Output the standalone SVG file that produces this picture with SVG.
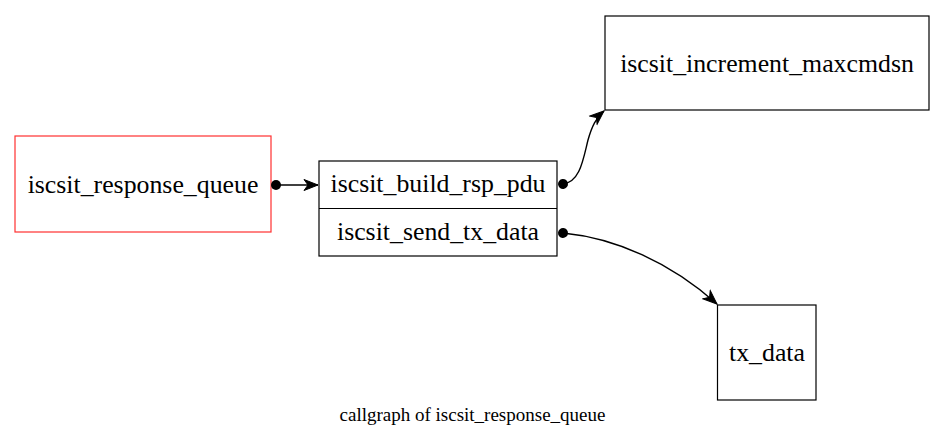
<svg xmlns="http://www.w3.org/2000/svg" width="943" height="447" viewBox="0 0 943 447">
<style>
text{font-family:"Liberation Serif","Times New Roman",serif;fill:#000;text-anchor:middle}
.n{font-size:25.8px}
.box{fill:none;stroke:#000;stroke-width:1.2}
.e{fill:none;stroke:#000;stroke-width:1.4}
</style>
<defs>
<marker id="vee" markerWidth="16" markerHeight="16" viewBox="0 0 16 16" refX="15" refY="8" orient="auto" markerUnits="userSpaceOnUse">
<path d="M1,2.5 L15,8 L1,13.5 L5,8 Z" fill="#000" stroke="#000" stroke-width="1"/>
</marker>
<marker id="dot" markerWidth="12" markerHeight="12" viewBox="0 0 12 12" refX="6" refY="6" orient="auto" markerUnits="userSpaceOnUse">
<circle cx="6" cy="6" r="5" fill="#000"/>
</marker>
</defs>
<rect width="943" height="447" fill="#fff"/>
<g id="node-response_queue">
<rect x="15" y="136" width="256" height="96" fill="none" stroke="#ff3030" stroke-width="1.2"/>
<text class="n" x="143" y="192.5">iscsit_response_queue</text>
</g>
<g id="node-record">
<rect class="box" x="319" y="161" width="238" height="95"/>
<line class="box" x1="319" y1="208.5" x2="557" y2="208.5"/>
<text class="n" x="438" y="192">iscsit_build_rsp_pdu</text>
<text class="n" x="438" y="240">iscsit_send_tx_data</text>
</g>
<g id="node-increment_maxcmdsn">
<rect class="box" x="605" y="16" width="324" height="94"/>
<text class="n" x="767" y="72">iscsit_increment_maxcmdsn</text>
</g>
<g id="node-tx_data">
<rect class="box" x="717.5" y="305" width="98.5" height="95"/>
<text class="n" x="767" y="361">tx_data</text>
</g>
<g id="edges">
<path class="e" d="M276,185 L318,185" marker-start="url(#dot)" marker-end="url(#vee)"/>
<path class="e" d="M563,184 C580,182 583,160 588,140 C592,126 596,118 604,111" marker-start="url(#dot)" marker-end="url(#vee)"/>
<path class="e" d="M563,233 C615,238 670,262 717,304" marker-start="url(#dot)" marker-end="url(#vee)"/>
</g>
<text x="472.5" y="421" font-size="19">callgraph of iscsit_response_queue</text>
</svg>
